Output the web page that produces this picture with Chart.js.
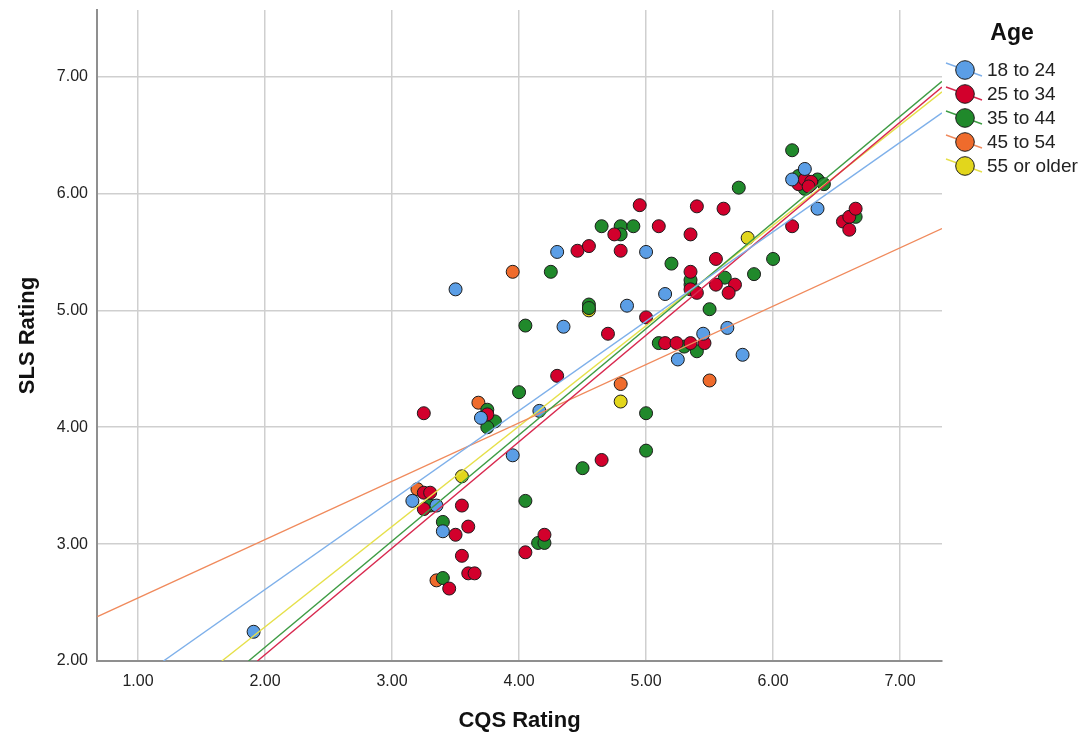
<!DOCTYPE html>
<html>
<head>
<meta charset="utf-8">
<title>SLS vs CQS Rating by Age</title>
<script src="https://cdn.jsdelivr.net/npm/chart.js@4.4.1/dist/chart.umd.min.js"></script>
<style>
  html, body { margin: 0; padding: 0; background: #fff; }
  #wrap { width: 1084px; height: 736px; position: relative; }
</style>
</head>
<body>
<div id="wrap"><canvas id="chart" width="1084" height="736"></canvas></div>
<script>
/* ── Data ──────────────────────────────────────────────────── */
const AGE_GROUPS = ["18 to 24", "25 to 34", "35 to 44", "45 to 54", "55 or older"];

const age1824X = [1.91, 3.50, 4.30, 5.00, 4.35, 4.85, 5.15, 3.16, 3.40, 3.35, 3.70, 3.95, 4.16, 5.25, 5.45, 5.64, 5.76, 6.15, 6.25, 6.35];
const age1824Y = [2.25, 5.18, 5.50, 5.50, 4.86, 5.04, 5.14, 3.37, 3.11, 3.33, 4.08, 3.76, 4.14, 4.58, 4.80, 4.85, 4.62, 6.12, 6.21, 5.87];

const age2534X = [4.95, 5.10, 4.75, 4.46, 4.55, 4.80, 5.00, 4.70, 5.15, 5.24, 5.40, 5.61, 5.35, 5.55, 5.35, 5.35, 5.40, 5.55, 5.70, 5.65, 5.35, 5.46, 6.15, 6.20, 6.25, 6.30, 6.28, 6.55, 6.60, 6.65, 6.60, 4.30, 3.25, 3.75, 3.25, 3.30, 3.25, 3.55, 3.60, 3.50, 3.55, 3.60, 3.65, 3.45, 4.05, 4.20, 4.65];
const age2534Y = [5.90, 5.72, 5.65, 5.51, 5.55, 5.51, 4.94, 4.80, 4.72, 4.72, 5.89, 5.87, 5.65, 5.44, 5.33, 5.18, 5.15, 5.22, 5.22, 5.15, 4.72, 4.72, 5.72, 6.08, 6.12, 6.10, 6.06, 5.76, 5.80, 5.87, 5.69, 4.44, 4.12, 4.11, 3.44, 3.44, 3.30, 3.33, 3.15, 3.08, 2.90, 2.75, 2.75, 2.62, 2.93, 3.08, 3.72];

const age3544X = [4.65, 4.80, 4.90, 4.80, 4.25, 4.55, 4.55, 4.05, 5.10, 5.20, 6.15, 5.73, 6.00, 5.85, 5.62, 5.35, 5.50, 5.30, 5.40, 6.20, 6.30, 6.25, 6.35, 6.40, 6.65, 4.00, 3.75, 3.81, 3.75, 3.30, 3.40, 3.40, 4.05, 4.15, 4.20, 4.50, 5.00, 5.00, 5.35];
const age3544Y = [5.72, 5.72, 5.72, 5.65, 5.33, 5.05, 5.02, 4.87, 4.72, 5.40, 6.37, 6.05, 5.44, 5.31, 5.28, 5.22, 5.01, 4.69, 4.65, 6.15, 6.08, 6.04, 6.12, 6.08, 5.80, 4.30, 4.15, 4.05, 4.00, 3.33, 3.19, 2.71, 3.37, 3.01, 3.01, 3.65, 4.12, 3.80, 5.26];

const age4554X = [3.95, 3.68, 3.20, 3.35, 4.80, 5.50];
const age4554Y = [5.33, 4.21, 3.47, 2.69, 4.37, 4.40];

const age55X = [4.55, 5.80, 4.80, 3.55];
const age55Y = [5.00, 5.62, 4.22, 3.58];

/* fit-line end points (per group), as read at the plot edges */
const fitX = [[1.20, 7.33], [1.94, 7.33], [1.87, 7.33], [0.68, 7.33], [1.66, 7.33]];
const fitY = [[2.00, 6.69], [2.00, 6.91], [2.00, 6.96], [2.38, 5.70], [2.00, 6.87]];

const xTicks = [1, 2, 3, 4, 5, 6, 7];
const yTicks = [2, 3, 4, 5, 6, 7];

/* ── Styling ───────────────────────────────────────────────── */
const FONT = "'Liberation Sans', Arial, sans-serif";
const POINT_COLORS = ["#5b9ee6", "#d2002c", "#20892b", "#ef6b2c", "#e2d61c"];
const LINE_COLORS  = ["#7eb0ea", "#d8294f", "#3e9c44", "#f08a5c", "#e6e04a"];

const pairs = (xs, ys) => xs.map((x, i) => ({ x, y: ys[i] }));
const groupXs = [age1824X, age2534X, age3544X, age4554X, age55X];
const groupYs = [age1824Y, age2534Y, age3544Y, age4554Y, age55Y];

const datasets = [];
AGE_GROUPS.forEach((g, i) => {
  datasets.push({
    label: g,
    data: pairs(groupXs[i], groupYs[i]),
    backgroundColor: POINT_COLORS[i],
    borderColor: "#1c1c1c",
    borderWidth: 1,
    pointRadius: 6.5,
    pointHoverRadius: 6.5,
    order: 2
  });
});
AGE_GROUPS.forEach((g, i) => {
  datasets.push({
    type: "line",
    label: g + " fit",
    data: pairs(fitX[i], fitY[i]),
    borderColor: LINE_COLORS[i],
    borderWidth: 1.4,
    pointRadius: 0,
    showLine: true,
    fill: false,
    order: 1
  });
});

/* custom legend: circle + diagonal line, SPSS style */
const ageLegend = {
  id: "ageLegend",
  afterDraw(chart) {
    const ctx = chart.ctx;
    ctx.save();
    ctx.fillStyle = "#111";
    ctx.font = "bold 23px " + FONT;
    ctx.textAlign = "center";
    ctx.textBaseline = "middle";
    ctx.fillText("Age", 1012, 34);
    AGE_GROUPS.forEach((g, i) => {
      const cy = 70 + i * 24, cx = 965;
      ctx.strokeStyle = LINE_COLORS[i];
      ctx.lineWidth = 1.4;
      ctx.beginPath();
      ctx.moveTo(cx - 19, cy - 7);
      ctx.lineTo(cx + 17, cy + 6);
      ctx.stroke();
      ctx.beginPath();
      ctx.arc(cx, cy, 9.3, 0, Math.PI * 2);
      ctx.fillStyle = POINT_COLORS[i];
      ctx.fill();
      ctx.strokeStyle = "#1c1c1c";
      ctx.lineWidth = 1;
      ctx.stroke();
      ctx.fillStyle = "#222";
      ctx.font = "19px " + FONT;
      ctx.textAlign = "left";
      ctx.fillText(g, 987, cy + 1);
    });
    ctx.restore();
  }
};

new Chart(document.getElementById("chart"), {
  type: "scatter",
  data: { datasets },
  plugins: [ageLegend],
  options: {
    responsive: false,
    animation: false,
    events: [],
    layout: { padding: { top: 10, right: 142, left: 0, bottom: 0 } },
    plugins: { legend: { display: false }, tooltip: { enabled: false } },
    scales: {
      x: {
        type: "linear",
        min: 0.677,
        max: 7.33,
        afterBuildTicks: s => { s.ticks = xTicks.map(v => ({ value: v })); },
        afterFit: s => { s.height = 75; s.paddingLeft = 0; s.paddingRight = 0; },
        ticks: {
          color: "#222",
          font: { family: FONT, size: 16 },
          padding: 11,
          callback: v => v.toFixed(2)
        },
        grid: { color: "#cfcfcf", lineWidth: 1.5, drawTicks: false },
        border: { color: "#8f8f8f", width: 2 },
        title: {
          display: true,
          text: "CQS Rating",
          color: "#111",
          font: { family: FONT, size: 22, weight: "bold" },
          padding: { top: 0, bottom: 2 }
        }
      },
      y: {
        type: "linear",
        min: 2,
        max: 7.57,
        afterBuildTicks: s => { s.ticks = yTicks.map(v => ({ value: v })); },
        afterFit: s => { s.width = 97; s.paddingTop = 0; s.paddingBottom = 0; },
        ticks: {
          color: "#222",
          font: { family: FONT, size: 16 },
          padding: 9,
          callback: v => v.toFixed(2)
        },
        grid: { color: "#cfcfcf", lineWidth: 1.5, drawTicks: false },
        border: { color: "#8f8f8f", width: 2 },
        title: {
          display: true,
          text: "SLS Rating",
          color: "#111",
          font: { family: FONT, size: 22, weight: "bold" },
          padding: { top: 15, bottom: 0 }
        }
      }
    }
  }
});
</script>
</body>
</html>
